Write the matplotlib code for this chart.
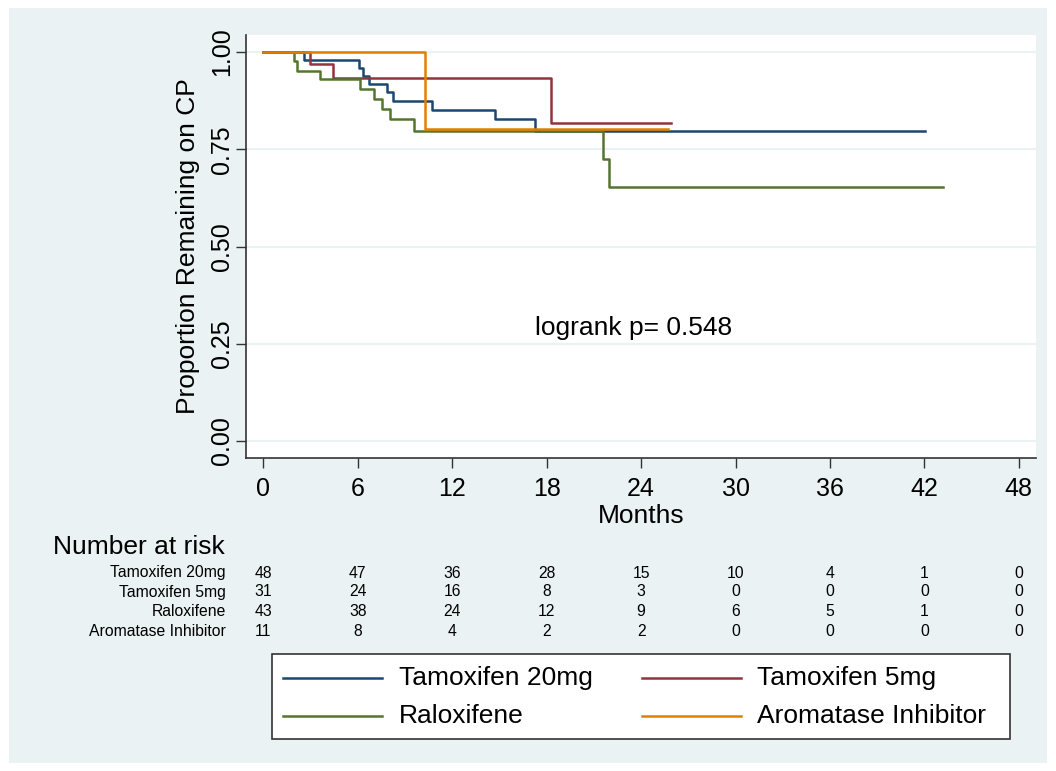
import matplotlib
matplotlib.use("Agg")
import matplotlib.pyplot as plt
from matplotlib.patches import Rectangle
from matplotlib.lines import Line2D
from matplotlib.transforms import blended_transform_factory

plt.rcParams['font.family'] = ['Liberation Sans', 'DejaVu Sans']

# Kaplan-Meier Stufen
t20_t = [0, 2.56, 6.09, 6.36, 6.74, 7.88, 8.26, 10.74, 14.73, 17.27, 42.05]
t20_s = [1.0, 0.979, 0.960, 0.939, 0.918, 0.896, 0.875, 0.851, 0.827, 0.797, 0.797]

t5_t = [0, 2.94, 4.42, 18.25, 25.9]
t5_s = [1.0, 0.968, 0.934, 0.818, 0.818]

ral_t = [0, 1.92, 2.13, 3.61, 6.15, 7.06, 7.57, 8.05, 9.58, 21.6, 21.95, 43.2]
ral_s = [1.0, 0.976, 0.952, 0.930, 0.905, 0.879, 0.853, 0.827, 0.797, 0.724, 0.654, 0.654]

ai_t = [0, 10.3, 25.7]
ai_s = [1.0, 0.801, 0.801]

groups = ['Tamoxifen 20mg', 'Tamoxifen 5mg', 'Raloxifene', 'Aromatase Inhibitor']
colors = ['#1A476F', '#90353B', '#55752F', '#E37E00']

risk_times = [0, 6, 12, 18, 24, 30, 36, 42, 48]
risk_t20 = [48, 47, 36, 28, 15, 10, 4, 1, 0]
risk_t5 = [31, 24, 16, 8, 3, 0, 0, 0, 0]
risk_ral = [43, 38, 24, 12, 9, 6, 5, 1, 0]
risk_ai = [11, 8, 4, 2, 2, 0, 0, 0, 0]

W, H = 1056, 771
bg = '#EAF2F3'

def fx(px):
    return px / W

def fy(py):
    return 1 - py / H

fig = plt.figure(figsize=(W / 100, H / 100), dpi=100, facecolor='white')
fig.patches.append(Rectangle((fx(9), fy(763)), fx(1047) - fx(9), fy(8) - fy(763),
                             transform=fig.transFigure, facecolor=bg, edgecolor='none', zorder=-5))

ax = fig.add_axes([fx(246), fy(458), fx(1036) - fx(246), fy(35) - fy(458)])
ax.set_facecolor('white')
ax.set_xlim(-1.10, 49.09)
ax.set_ylim(-0.0437, 1.0437)

for y in [0, 0.25, 0.5, 0.75, 1.0]:
    ax.axhline(y, color=bg, lw=1.5, zorder=1)

series = [(t20_t, t20_s), (t5_t, t5_s), (ral_t, ral_s), (ai_t, ai_s)]
for (t, s), c, lab in zip(series, colors, groups):
    ax.step(t, s, where='post', color=c, lw=1.8, label=lab, zorder=3)

for sp in ['top', 'right']:
    ax.spines[sp].set_visible(False)
for sp in ['left', 'bottom']:
    ax.spines[sp].set_color('#333333')
    ax.spines[sp].set_linewidth(1.2)

ax.set_xticks(risk_times)
ax.set_yticks([0, 0.25, 0.5, 0.75, 1.0])
ax.set_yticklabels(['0.00', '0.25', '0.50', '0.75', '1.00'])
ax.tick_params(axis='both', length=7, width=1, color='#333333', labelsize=18)
ax.tick_params(axis='x', pad=7)
ax.tick_params(axis='y', pad=1.5)
plt.setp(ax.get_yticklabels(), rotation=90, va='center')

ax.set_xlabel('Months', fontsize=19)
ax.xaxis.set_label_coords(0.5, -0.108)
ax.set_ylabel('Proportion Remaining on CP', fontsize=19)
ax.yaxis.set_label_coords(-0.058, 0.5)

ax.text(23.5, 0.29, 'logrank p= 0.548', fontsize=19, ha='center', va='center')

# Number at risk
fig.text(fx(53), fy(547), 'Number at risk', fontsize=19, ha='left', va='center')
tr = blended_transform_factory(ax.transData, fig.transFigure)
risk_rows = [risk_t20, risk_t5, risk_ral, risk_ai]
row_y = [573, 592, 611, 631]
for lab, vals, yy in zip(groups, risk_rows, row_y):
    fig.text(fx(226), fy(yy), lab, fontsize=11.3, ha='right', va='center')
    for t, v in zip(risk_times, vals):
        ax.text(t, fy(yy), str(v), transform=tr, fontsize=11.3, ha='center', va='center',
                clip_on=False)

# Legende
fig.patches.append(Rectangle((fx(271.5), fy(739)), fx(1010) - fx(271.5), fy(654) - fy(739),
                             transform=fig.transFigure, facecolor='white', edgecolor='#333333',
                             lw=1.2, zorder=2))
leg_pos = [(283, 382, 399, 678), (642, 741, 757, 678), (283, 382, 399, 716), (642, 741, 757, 716)]
for (x0, x1, xt, yy), c, lab in zip(leg_pos, colors, groups):
    fig.add_artist(Line2D([fx(x0), fx(x1)], [fy(yy), fy(yy)], transform=fig.transFigure,
                          color=c, lw=1.8, zorder=3))
    fig.text(fx(xt), fy(yy), lab, fontsize=19, ha='left', va='center', zorder=3)

fig.savefig('out.png', dpi=100, facecolor='white')
